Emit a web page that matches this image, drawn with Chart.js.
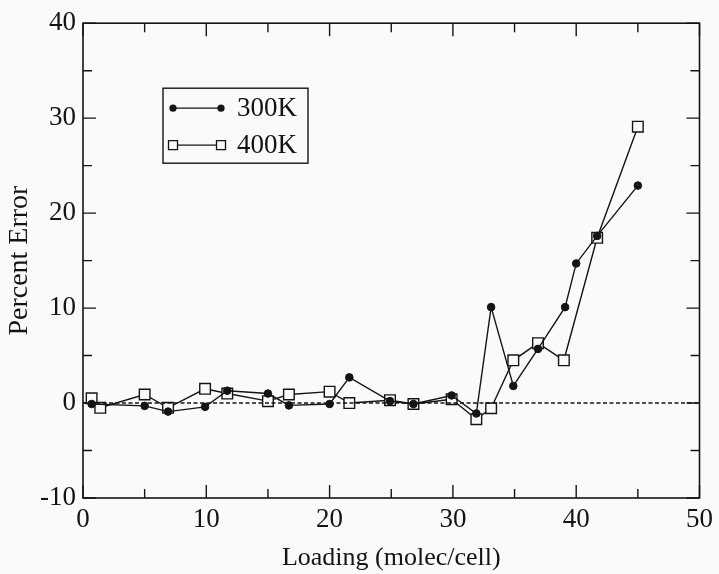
<!DOCTYPE html>
<html>
<head>
<meta charset="utf-8">
<title>Percent Error vs Loading</title>
<script src="https://cdn.jsdelivr.net/npm/chart.js@4/dist/chart.umd.min.js"></script>
<style>
  html, body { margin: 0; padding: 0; background: #fafafa; }
  #wrap { width: 719px; height: 574px; position: relative; }
</style>
</head>
<body>
<div id="wrap"><canvas id="errorChart"></canvas></div>
<script>
// Values
const loading300 = [0.7, 5.0, 6.9, 9.9, 11.7, 15.0, 16.7, 20.0, 21.6, 24.9, 26.8, 29.9, 31.9, 33.1, 34.9, 36.9, 39.1, 40.0, 41.7, 45.0];
const error300   = [-0.1, -0.3, -0.9, -0.4, 1.3, 1.0, -0.25, -0.1, 2.7, 0.2, -0.1, 0.8, -1.1, 10.1, 1.8, 5.7, 10.1, 14.7, 17.6, 22.9];

const loading400 = [0.7, 1.4, 5.0, 6.9, 9.9, 11.7, 15.0, 16.7, 20.0, 21.6, 24.9, 26.8, 29.9, 31.9, 33.1, 34.9, 36.9, 39.0, 41.7, 45.0];
const error400   = [0.5, -0.5, 0.9, -0.5, 1.5, 1.0, 0.2, 0.9, 1.2, 0.0, 0.3, -0.1, 0.4, -1.7, -0.55, 4.5, 6.3, 4.5, 17.4, 29.1];

const zeroLineX = [0, 50];
const zeroLineY = [0, 0];

const xTickValues = [0, 10, 20, 30, 40, 50];
const yTickValues = [-10, 0, 10, 20, 30, 40];

const seriesNames = ['300K', '400K'];

const serif = "'Liberation Serif', 'Times New Roman', serif";
const ink = '#141414';
const paper = '#fafafa';

function toPoints(xs, ys) {
    return xs.map((x, i) => ({ x: x, y: ys[i] }));
}

// Frame with inward ticks on all four sides (major every 10, minor every 5)
const frameTicks = {
    id: 'frameTicks',
    afterDatasetsDraw(chart) {
        const { ctx, chartArea: a, scales } = chart;
        const xs = scales.x, ys = scales.y;
        ctx.save();
        ctx.strokeStyle = ink;
        ctx.lineWidth = 1.6;
        ctx.strokeRect(a.left, a.top, a.right - a.left, a.bottom - a.top);
        ctx.lineWidth = 1.4;
        ctx.beginPath();
        for (let v = xs.min; v <= xs.max; v += 5) {
            const px = xs.getPixelForValue(v);
            const len = v % 10 === 0 ? 13 : 9;
            ctx.moveTo(px, a.bottom); ctx.lineTo(px, a.bottom - len);
            ctx.moveTo(px, a.top); ctx.lineTo(px, a.top + len);
        }
        for (let v = ys.min; v <= ys.max; v += 5) {
            const py = ys.getPixelForValue(v);
            const len = v % 10 === 0 ? 13 : 9;
            ctx.moveTo(a.left, py); ctx.lineTo(a.left + len, py);
            ctx.moveTo(a.right, py); ctx.lineTo(a.right - len, py);
        }
        ctx.stroke();
        ctx.restore();
    }
};

// Boxed legend inside the plot, upper left
const boxLegend = {
    id: 'boxLegend',
    afterDraw(chart) {
        const { ctx, chartArea: a } = chart;
        const bx = a.left + 80, by = a.top + 65, bw = 145, bh = 75;
        ctx.save();
        ctx.strokeStyle = ink;
        ctx.lineWidth = 1.4;
        ctx.strokeRect(bx, by, bw, bh);
        const rows = [by + 20, by + 57];
        ctx.font = '27px ' + serif;
        ctx.fillStyle = ink;
        ctx.textBaseline = 'middle';
        rows.forEach((ry, i) => {
            const x1 = bx + 10, x2 = bx + 58;
            ctx.beginPath();
            ctx.lineWidth = 1.3;
            ctx.moveTo(x1, ry); ctx.lineTo(x2, ry);
            ctx.stroke();
            [x1, x2].forEach(px => {
                ctx.beginPath();
                if (i === 0) {
                    ctx.arc(px, ry, 3.6, 0, Math.PI * 2);
                    ctx.fill();
                } else {
                    ctx.fillStyle = paper;
                    ctx.rect(px - 4.5, ry - 4.5, 9, 9);
                    ctx.fill();
                    ctx.stroke();
                    ctx.fillStyle = ink;
                }
            });
            ctx.fillText(seriesNames[i], bx + 74, ry + 1);
        });
        ctx.restore();
    }
};

const ctx = document.getElementById('errorChart').getContext('2d');
const errorChart = new Chart(ctx, {
    type: 'scatter',
    data: {
        datasets: [
            {
                label: 'zero',
                data: toPoints(zeroLineX, zeroLineY),
                showLine: true,
                borderColor: ink,
                borderWidth: 1.4,
                borderDash: [4, 2.5],
                pointRadius: 0
            },
            {
                label: seriesNames[0],
                data: toPoints(loading300, error300),
                showLine: true,
                borderColor: ink,
                borderWidth: 1.4,
                pointStyle: 'circle',
                pointRadius: 3.8,
                pointBackgroundColor: ink,
                pointBorderColor: ink,
                pointBorderWidth: 1
            },
            {
                label: seriesNames[1],
                data: toPoints(loading400, error400),
                showLine: true,
                borderColor: ink,
                borderWidth: 1.4,
                pointStyle: 'rect',
                pointRadius: 7.5,
                pointBackgroundColor: paper,
                pointBorderColor: ink,
                pointBorderWidth: 1.4
            }
        ]
    },
    options: {
        responsive: true,
        maintainAspectRatio: false,
        animation: false,
        layout: { padding: { top: 17, right: 13, left: 0, bottom: 0 } },
        plugins: {
            legend: { display: false },
            tooltip: { enabled: false }
        },
        scales: {
            x: {
                type: 'linear',
                min: 0,
                max: 50,
                afterBuildTicks: s => { s.ticks = xTickValues.map(v => ({ value: v })); },
                afterFit: s => { s.height = 76; },
                grid: { display: false, drawTicks: false },
                border: { display: false },
                ticks: { color: ink, font: { family: serif, size: 27 }, padding: 6, maxRotation: 0 },
                title: {
                    display: true,
                    text: 'Loading (molec/cell)',
                    color: ink,
                    font: { family: serif, size: 26 },
                    padding: { top: 0, bottom: 0 }
                }
            },
            y: {
                type: 'linear',
                min: -10,
                max: 40,
                afterBuildTicks: s => { s.ticks = yTickValues.map(v => ({ value: v })); },
                afterFit: s => { s.width = 83; },
                grid: { display: false, drawTicks: false },
                border: { display: false },
                ticks: { color: ink, font: { family: serif, size: 27 }, padding: 7 },
                title: {
                    display: true,
                    text: 'Percent Error',
                    color: ink,
                    font: { family: serif, size: 28 },
                    padding: { top: 3, bottom: 0 }
                }
            }
        }
    },
    plugins: [frameTicks, boxLegend]
});
</script>
</body>
</html>
